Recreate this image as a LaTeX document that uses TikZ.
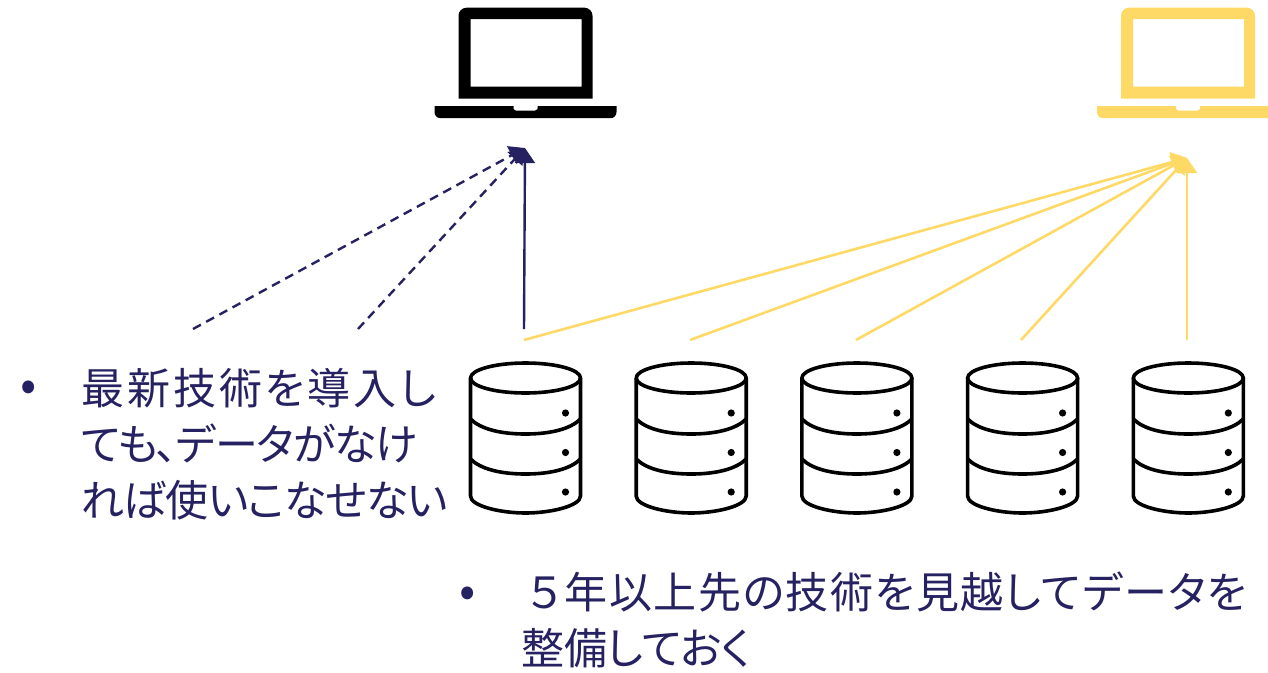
\documentclass[tikz,border=0pt]{standalone}
\usepackage{fontspec}
\setmainfont{Noto Sans CJK JP}[Scale=1]
\newfontfamily\jp{Noto Sans CJK JP}[RawFeature={+palt}]
\newcommand{\spaced}[2]{{\addfontfeature{LetterSpace=#1}#2}}
\usetikzlibrary{arrows.meta}
\definecolor{navy}{HTML}{262262}
\definecolor{gold}{HTML}{FFD966}
\tikzset{
  x=1pt,y=-1pt,
  label text/.style={inner sep=0pt,anchor=base west,text=navy,font=\jp\fontsize{43}{56}\selectfont,align=left},
  bullet text/.style={inner sep=0pt,anchor=base,text=navy,font=\jp\fontsize{48}{48}\selectfont},
  navyline/.style={draw=navy,line width=2.4pt,-{Triangle[length=15pt,width=20pt]}},
  navydash/.style={navyline,dash pattern=on 9pt off 6pt},
  goldline/.style={draw=gold,line width=2.6pt,-{Triangle[length=15pt,width=20pt]}},
  dbline/.style={draw=black,line width=3.6pt,line join=round,fill=none},
  pics/laptop/.style={code={
    \fill[#1,even odd rule,rounded corners=0pt]
      (-67,-91) [rounded corners=8pt] -- (67,-91) [sharp corners] -- (67,0) -- (-67,0) [rounded corners=8pt] -- cycle
      [sharp corners] (-55,-79.5) rectangle (56,-12);
    \fill[#1] (-91,7.5) -- (-12,7.5) -- (-12,10) [rounded corners=1.5pt] -- (-11,12) -- (11,12) [sharp corners] -- (12,10) -- (12,7.5) -- (91,7.5) [rounded corners=6pt] -- (91,19.5) -- (-91,19.5) [sharp corners] -- cycle;
  }},
  pics/database/.style={code={
    \draw[dbline] (0,0) ellipse [x radius=55,y radius=15];
    \draw[dbline] (-55,0) -- (-55,118) .. controls (-55,128) and (-25,135) .. (0,135) .. controls (25,135) and (55,128) .. (55,118) -- (55,0);
    \draw[dbline] (-55,41) .. controls (-45,51) and (-25,56) .. (0,56) .. controls (25,56) and (45,51) .. (55,41);
    \draw[dbline] (-55,81) .. controls (-45,91) and (-25,96) .. (0,96) .. controls (25,96) and (45,91) .. (55,81);
    \fill (40,35) circle (3.6) (40,74.5) circle (3.6) (40,114) circle (3.6);
  }}
}
\begin{document}
\begin{tikzpicture}
\useasboundingbox (0,0) rectangle (1268,672);
\begin{scope}
\clip (0,0) rectangle (1268,672);
\pic at (525.5,98.7) {laptop=black};
\pic at (1188,98.7) {laptop=gold};
\end{scope}
\foreach \n/\x in {a/525.5,b/691.2,c/856.9,d/1022.6,e/1188.3}{
  \pic at (\x,378) {database};
}
\coordinate (navytip) at (525,148);
\coordinate (goldtip) at (1187,158);
\coordinate (d1) at (193,329);
\coordinate (d2) at (358,329);
\coordinate (d3) at (524,329);
\coordinate (g1) at (524,340);
\coordinate (g2) at (690,340);
\coordinate (g3) at (856,340);
\coordinate (g4) at (1021,340);
\coordinate (g5) at (1187,340);
\draw[navydash] (d1) -- (navytip);
\draw[navydash] (d2) -- (navytip);
\draw[navyline] (d3) -- (navytip);
\foreach \g in {g1,g2,g3,g4,g5}{\draw[goldline] (\g) -- (goldtip);}
\node[bullet text] (b1) at (29,401) {•};
\node[label text] (t1) at (81,516) {\spaced{7}{最新技術を導入し}\\\spaced{-2.5}{ても、データがなけ}\\\spaced{-2}{れば使いこなせない}};
\node[bullet text] (b2) at (468,607) {•};
\node[label text] (t2) at (521,664) {\hspace*{7pt}\spaced{3.5}{５\hspace{4pt}年以上先の技術を見越してデータを}\\整備しておく};
\end{tikzpicture}
\end{document}
